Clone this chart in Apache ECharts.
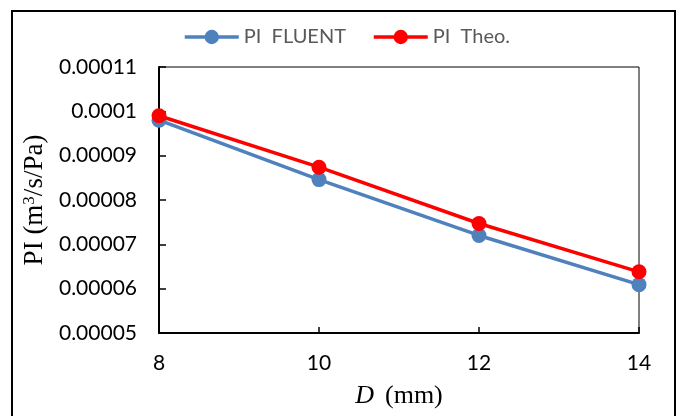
<!DOCTYPE html>
<html>
<head>
<meta charset="utf-8">
<script src="https://cdn.jsdelivr.net/npm/echarts@6/dist/echarts.min.js"></script>
<style>
  html, body { margin: 0; padding: 0; background: #fff; }
  #chart { width: 682px; height: 416px; }
</style>
</head>
<body>
<div id="chart"></div>
<script>
// Pipe diameter D (mm)
const diameters = [8, 10, 12, 14];
// Productivity index PI (m^3/s/Pa)
const piFluent = [0.0000980, 0.0000846, 0.0000720, 0.0000609];
const piTheo = [0.0000990, 0.0000874, 0.0000747, 0.0000638];
const yTickLabels = ['0.00005', '0.00006', '0.00007', '0.00008', '0.00009', '0.0001', '0.00011'];
const yMin = 0.00005, yMax = 0.00011, yStep = 0.00001;

const toPairs = (xs, ys) => xs.map((x, i) => [x, ys[i]]);

const chart = echarts.init(document.getElementById('chart'), null, { renderer: 'canvas' });

const tickFont = 'Lato, "Open Sans", sans-serif';
const serifFont = '"Liberation Serif", "DejaVu Serif", serif';

chart.setOption({
  animation: false,
  backgroundColor: '#fff',
  graphic: [{
    type: 'rect',
    shape: { x: 12, y: 11, width: 663, height: 420 },
    style: { fill: 'none', stroke: '#000', lineWidth: 2 },
    z: 0
  }],
  legend: {
    left: 183,
    top: 27,
    padding: 0,
    itemWidth: 54,
    itemHeight: 18,
    itemGap: 26,
    lineStyle: { width: 3.5 },
    textStyle: { color: '#595959', fontFamily: tickFont, fontSize: 20 },
    data: ['PI  FLUENT', 'PI  Theo.']
  },
  grid: {
    left: 159, right: 43, top: 67, bottom: 83,
    show: true, borderColor: '#000', borderWidth: 1
  },
  xAxis: {
    type: 'value',
    min: 8, max: 14, interval: 2,
    axisLine: { show: true, lineStyle: { color: '#000', width: 2 } },
    axisTick: { show: true, inside: true, length: 6, lineStyle: { color: '#000', width: 1.5 } },
    splitLine: { show: false },
    axisLabel: { color: '#000', fontFamily: tickFont, fontSize: 21, margin: 20 },
    name: '{i|D}{n|(mm)}',
    nameLocation: 'middle',
    nameGap: 50,
    nameTextStyle: {
      rich: {
        i: { fontFamily: serifFont, fontStyle: 'italic', fontSize: 26, color: '#000', padding: [0, 11, 0, 0] },
        n: { fontFamily: serifFont, fontSize: 26, color: '#000' }
      }
    }
  },
  yAxis: {
    type: 'value',
    min: yMin, max: yMax, interval: yStep,
    axisLine: { show: true, lineStyle: { color: '#000', width: 2 } },
    axisTick: { show: true, inside: true, length: 7, lineStyle: { color: '#000', width: 1.5 } },
    splitLine: { show: false },
    axisLabel: {
      color: '#000', fontFamily: tickFont, fontSize: 21, margin: 22,
      formatter: v => yTickLabels[Math.round((v - yMin) / yStep)] || ''
    },
    name: '{n|PI (m}{s|3}{n|/s/Pa)}',
    nameLocation: 'middle',
    nameGap: 107,
    nameTextStyle: {
      rich: {
        n: { fontFamily: serifFont, fontSize: 27, color: '#000' },
        s: { fontFamily: serifFont, fontSize: 17, color: '#000', verticalAlign: 'top', padding: [0, 0, 11, 0] }
      }
    }
  },
  series: [
    {
      name: 'PI  FLUENT',
      type: 'line',
      data: toPairs(diameters, piFluent),
      symbol: 'circle',
      symbolSize: 15,
      lineStyle: { color: '#4F81BD', width: 3.5 },
      itemStyle: { color: '#4F81BD' },
      z: 2
    },
    {
      name: 'PI  Theo.',
      type: 'line',
      data: toPairs(diameters, piTheo),
      symbol: 'circle',
      symbolSize: 15,
      lineStyle: { color: '#FF0000', width: 3.5 },
      itemStyle: { color: '#FF0000' },
      z: 3
    }
  ]
});
</script>
</body>
</html>
